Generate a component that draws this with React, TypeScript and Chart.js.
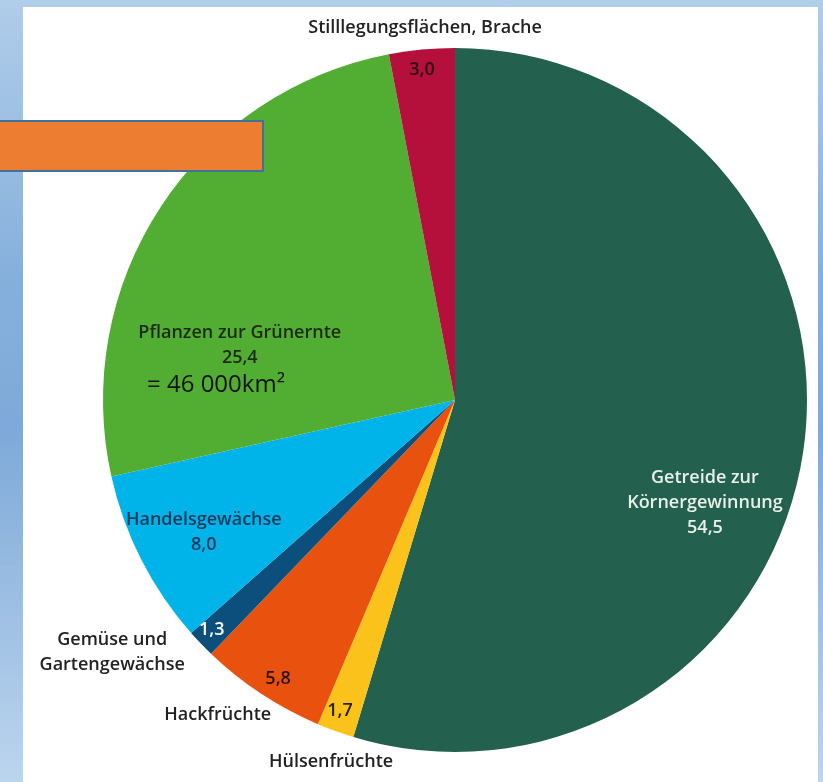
import React, { useEffect, useRef } from 'react';
import { Chart, registerables } from 'chart.js';

Chart.register(...registerables);

// ---- data ----
const categories = [
  'Getreide zur Körnergewinnung',
  'Hülsenfrüchte',
  'Hackfrüchte',
  'Gemüse und Gartengewächse',
  'Handelsgewächse',
  'Pflanzen zur Grünernte',
  'Stilllegungsflächen, Brache',
];
const shares = [54.5, 1.7, 5.8, 1.3, 8.0, 25.4, 3.0];
const valueLabels = ['54,5', '1,7', '5,8', '1,3', '8,0', '25,4', '3,0'];
const sliceColors = ['#23604D', '#FBC21B', '#E9510F', '#0C4E7C', '#00B4EA', '#52AD33', '#B4103B'];

// ---- label layout (polar: angle clockwise from top in deg, radius as fraction of pie radius) ----
type LabelBlock = { lines: string[]; angle: number; r: number; color: string; size: number };
const labelBlocks: LabelBlock[] = [
  { lines: [categories[6]], angle: 355.4, r: 1.06, color: '#222222', size: 18 },
  { lines: [valueLabels[6]], angle: 354.3, r: 0.943, color: '#2a0a12', size: 18 },
  { lines: ['Pflanzen zur Grünernte', valueLabels[5]], angle: 284.3, r: 0.631, color: '#1f2a12', size: 18 },
  { lines: [categories[4], valueLabels[4]], angle: 242.3, r: 0.806, color: '#123a5c', size: 18 },
  { lines: [valueLabels[3]], angle: 226.6, r: 0.951, color: '#ffffff', size: 18 },
  { lines: ['Gemüse und', 'Gartengewächse'], angle: 233.6, r: 1.21, color: '#222222', size: 18 },
  { lines: [valueLabels[2]], angle: 212.4, r: 0.938, color: '#2a1208', size: 18 },
  { lines: [categories[2]], angle: 217.0, r: 1.12, color: '#222222', size: 18 },
  { lines: [valueLabels[1]], angle: 200.3, r: 0.942, color: '#2a2208', size: 18 },
  { lines: [categories[1]], angle: 198.9, r: 1.087, color: '#222222', size: 18 },
  { lines: ['Getreide zur', 'Körnergewinnung', valueLabels[0]], angle: 112.4, r: 0.768, color: '#e9f0ea', size: 18 },
];
const LINE_HEIGHT = 25;

const labelPlugin = {
  id: 'sliceLabels',
  afterDatasetsDraw(chart: any) {
    const meta = chart.getDatasetMeta(0);
    if (!meta || !meta.data.length) return;
    const arc = meta.data[0];
    const { x, y, outerRadius } = arc.getProps(['x', 'y', 'outerRadius'], true);
    const ctx = chart.ctx as CanvasRenderingContext2D;
    ctx.save();
    ctx.textAlign = 'center';
    ctx.textBaseline = 'middle';
    for (const b of labelBlocks) {
      const t = (b.angle * Math.PI) / 180;
      const cx = x + b.r * outerRadius * Math.sin(t);
      const cy = y - b.r * outerRadius * Math.cos(t);
      ctx.font = `600 ${b.size}px "Open Sans", sans-serif`;
      ctx.fillStyle = b.color;
      const n = b.lines.length;
      b.lines.forEach((line, i) => {
        ctx.fillText(line, cx, cy + (i - (n - 1) / 2) * LINE_HEIGHT);
      });
    }
    ctx.restore();
  },
};

export default function App() {
  const canvasRef = useRef<HTMLCanvasElement | null>(null);

  useEffect(() => {
    document.body.style.margin = '0';
    const canvas = canvasRef.current;
    if (!canvas) return;
    const chart = new Chart(canvas, {
      type: 'pie',
      data: {
        labels: categories,
        datasets: [
          {
            data: shares,
            backgroundColor: sliceColors,
            borderWidth: 0,
          },
        ],
      },
      options: {
        responsive: false,
        animation: false,
        devicePixelRatio: 1,
        layout: { padding: { left: 103, right: 16, top: 48, bottom: 30 } },
        plugins: {
          legend: { display: false },
          tooltip: { enabled: false },
        },
      },
      plugins: [labelPlugin],
    });
    return () => chart.destroy();
  }, []);

  return (
    <div
      style={{
        position: 'relative',
        width: 823,
        height: 782,
        overflow: 'hidden',
        background: 'linear-gradient(180deg, #b0cdea 0%, #86b0dc 35%, #7ea9d8 55%, #bcd5ee 100%)',
      }}
    >
      <div
        style={{
          position: 'absolute',
          left: 23,
          top: 7,
          width: 795,
          height: 775,
          background: '#ffffff',
        }}
      />
      <canvas
        ref={canvasRef}
        width={823}
        height={782}
        style={{ position: 'absolute', left: 0, top: 0, width: 823, height: 782 }}
      />
      <div
        style={{
          position: 'absolute',
          left: -3,
          top: 120,
          width: 263,
          height: 48,
          background: '#ED7D31',
          border: '2px solid #41719C',
        }}
      />
      <div
        style={{
          position: 'absolute',
          left: 147,
          top: 366,
          fontFamily: '"Open Sans", sans-serif',
          fontSize: 24,
          lineHeight: '34px',
          color: '#111111',
          whiteSpace: 'nowrap',
        }}
      >
        = 46 000km²
      </div>
    </div>
  );
}
